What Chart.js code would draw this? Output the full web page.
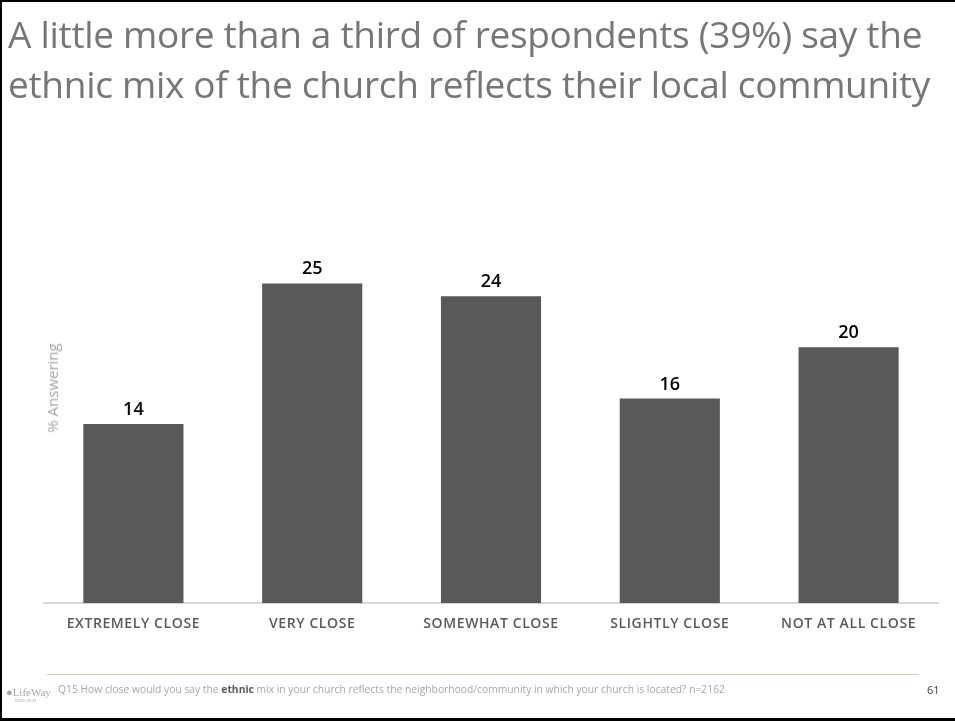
<!DOCTYPE html>
<html>
<head>
<meta charset="utf-8">
<script src="https://cdn.jsdelivr.net/npm/chart.js@4.4.1/dist/chart.umd.min.js"></script>
<style>
  html, body { margin: 0; padding: 0; background: #fff; }
  #wrap { position: relative; width: 955px; height: 721px; overflow: hidden; background: #fff; }
  #frame { position: absolute; left: 0; top: 0; width: 955px; height: 721px; box-sizing: border-box;
           border-top: 2px solid #000; border-left: 2px solid #000; border-bottom: 3px solid #000; pointer-events: none; z-index: 5; }
  #title { position: absolute; left: 8px; top: 9px; font-family: "Open Sans", sans-serif; font-size: 37px;
           line-height: 50px; color: #767676; white-space: nowrap; letter-spacing: -0.3px; }
  #ytitle { position: absolute; left: 52px; top: 388px; transform: translate(-50%, -50%) rotate(-90deg);
            font-family: "Open Sans", sans-serif; font-size: 15px; color: #a6a6a6; white-space: nowrap; }
  #fline { position: absolute; left: 47px; top: 674px; width: 872px; height: 1px; background: #cfcfb8; }
  #foot { position: absolute; left: 58px; top: 682px; font-family: "Open Sans", sans-serif;
          font-size: 10.3px; color: #a6a6a6; white-space: nowrap; }
  #foot b { color: #595959; }
  #pnum { position: absolute; left: 927px; top: 682px; font-family: "Open Sans", sans-serif; font-size: 11px; color: #404040; }
  #logo { position: absolute; left: 6px; top: 683px; font-family: "Liberation Serif", serif; color: #a6a6a6; line-height: 1; }
  #logo .a { font-size: 11px; }
  #logo .b { font-size: 4px; display: block; margin-left: 9px; }
  canvas { position: absolute; left: 0; top: 0; }
</style>
</head>
<body>
<div id="wrap">
  <canvas id="c" width="955" height="721"></canvas>
  <div id="title">A little more than a third of respondents (39%) say the<br>ethnic mix of the church reflects their local community</div>
  <div id="ytitle">% Answering</div>
  <div id="fline"></div>
  <div id="foot">Q15 How close would you say the <b>ethnic</b> mix in your church reflects the neighborhood/community in which your church is located? n=2162</div>
  <div id="pnum">61</div>
  <div id="logo"><span class="a">&#9679;LifeWay</span><span class="b">RESEARCH</span></div>
  <div id="frame"></div>
</div>
<script>
const categories = ["EXTREMELY CLOSE", "VERY CLOSE", "SOMEWHAT CLOSE", "SLIGHTLY CLOSE", "NOT AT ALL CLOSE"];
const values = [14, 25, 24, 16, 20];

const labelPlugin = {
  id: 'valueLabels',
  afterDatasetsDraw(chart) {
    const ctx = chart.ctx;
    const meta = chart.getDatasetMeta(0);
    ctx.save();
    ctx.letterSpacing = '0px';
    ctx.font = '600 18px "Open Sans", sans-serif';
    ctx.fillStyle = '#000';
    ctx.textAlign = 'center';
    ctx.textBaseline = 'alphabetic';
    meta.data.forEach((bar, i) => {
      ctx.fillText(String(values[i]), bar.x, bar.y - 9);
    });
    ctx.restore();
  }
};
const spacingPlugin = {
  id: 'spacing',
  beforeDraw(chart) { chart.ctx.letterSpacing = '0.6px'; },
  afterDraw(chart) { chart.ctx.letterSpacing = '0px'; }
};

new Chart(document.getElementById('c'), {
  type: 'bar',
  data: {
    labels: categories,
    datasets: [{
      data: values,
      backgroundColor: '#595959',
      borderWidth: 0,
      categoryPercentage: 1.0,
      barPercentage: 0.56
    }]
  },
  options: {
    responsive: false,
    animation: false,
    layout: { padding: { left: 44, right: 17, top: 245, bottom: 77 } },
    plugins: { legend: { display: false }, tooltip: { enabled: false }, title: { display: false } },
    scales: {
      x: {
        grid: { display: true, color: 'transparent', drawTicks: false },
        border: { display: true, color: '#d9d9d9', width: 2 },
        ticks: { color: '#595959', font: { family: '"Open Sans", sans-serif', size: 14, weight: '600' }, padding: 12, maxRotation: 0, autoSkip: false }
      },
      y: {
        display: false,
        min: 0,
        max: 28
      }
    }
  },
  plugins: [labelPlugin, spacingPlugin]
});
</script>
</body>
</html>
